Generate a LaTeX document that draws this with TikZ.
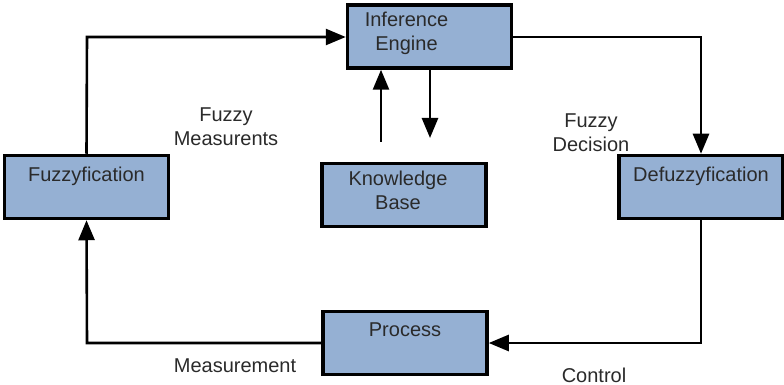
\documentclass[tikz,border=0pt]{standalone}
\usepackage{fontspec}
\setmainfont{Liberation Sans}
\usetikzlibrary{arrows.meta}
\definecolor{boxfill}{HTML}{95B0D3}
\definecolor{txt}{HTML}{2A2A2A}
\tikzset{
  block/.style={draw=black, line width=3.5pt, fill=boxfill, minimum width=164pt,
    minimum height=63pt, inner sep=0pt},
  blocktext/.style={text=txt, font=\fontsize{20}{24}\selectfont, align=center, inner sep=0pt},
  lbl/.style={text=txt, font=\fontsize{20}{24}\selectfont, align=center},
  flow/.style={line width=2.6pt, -{Triangle[length=20pt,width=16pt]}},
}
\begin{document}
\begin{tikzpicture}[x=1pt,y=-1pt]
  \useasboundingbox (0,0) rectangle (784,385);
  % blocks
  \node[block] (inf) at (429.5,36.5) {};
  \node[block] (kb)  at (404,195) {};
  \node[block] (fz)  at (86.5,187) {};
  \node[block] (dfz) at (701,187) {};
  \node[block] (proc) at (405,343) {};
  % block texts, set near the top of each block
  \node[blocktext, anchor=north] at ([xshift=-23pt,yshift=-9pt]inf.north) {Inference\\Engine};
  \node[blocktext, anchor=north] at ([xshift=-6pt,yshift=-9pt]kb.north) {Knowledge\\Base};
  \node[blocktext, anchor=north] at ([yshift=-13pt]fz.north) {Fuzzyfication};
  \node[blocktext, anchor=north] at ([yshift=-13pt]dfz.north) {Defuzzyfication};
  \node[blocktext, anchor=north] at ([yshift=-13pt]proc.north) {Process};
  % loop connectors
  \coordinate (c1) at (87,37);
  \coordinate (c2) at (701,37);
  \coordinate (c3) at (701,343);
  \coordinate (c4) at (87,343);
  \draw[flow] (fz.north) -- (c1) -- (inf.west |- c1);
  \draw[flow] (inf.east |- c2) -- (c2) -- (dfz.north);
  \draw[flow] (dfz.south) -- (c3) -- (proc.east |- c3);
  \draw[flow] (proc.west |- c4) -- (c4) -- (fz.south);
  % knowledge base exchange
  \coordinate (up0) at (381,142);
  \coordinate (dn1) at (430,138);
  \draw[flow] (up0) -- (up0 |- inf.south);
  \draw[flow] (dn1 |- inf.south) -- (dn1);
  % labels
  \node[lbl] at (226,127) {Fuzzy\\Measurents};
  \node[lbl] at (591,133) {Fuzzy\\Decision};
  \node[lbl] at (235,366) {Measurement};
  \node[lbl] at (594,375) {Control};
\end{tikzpicture}
\end{document}
